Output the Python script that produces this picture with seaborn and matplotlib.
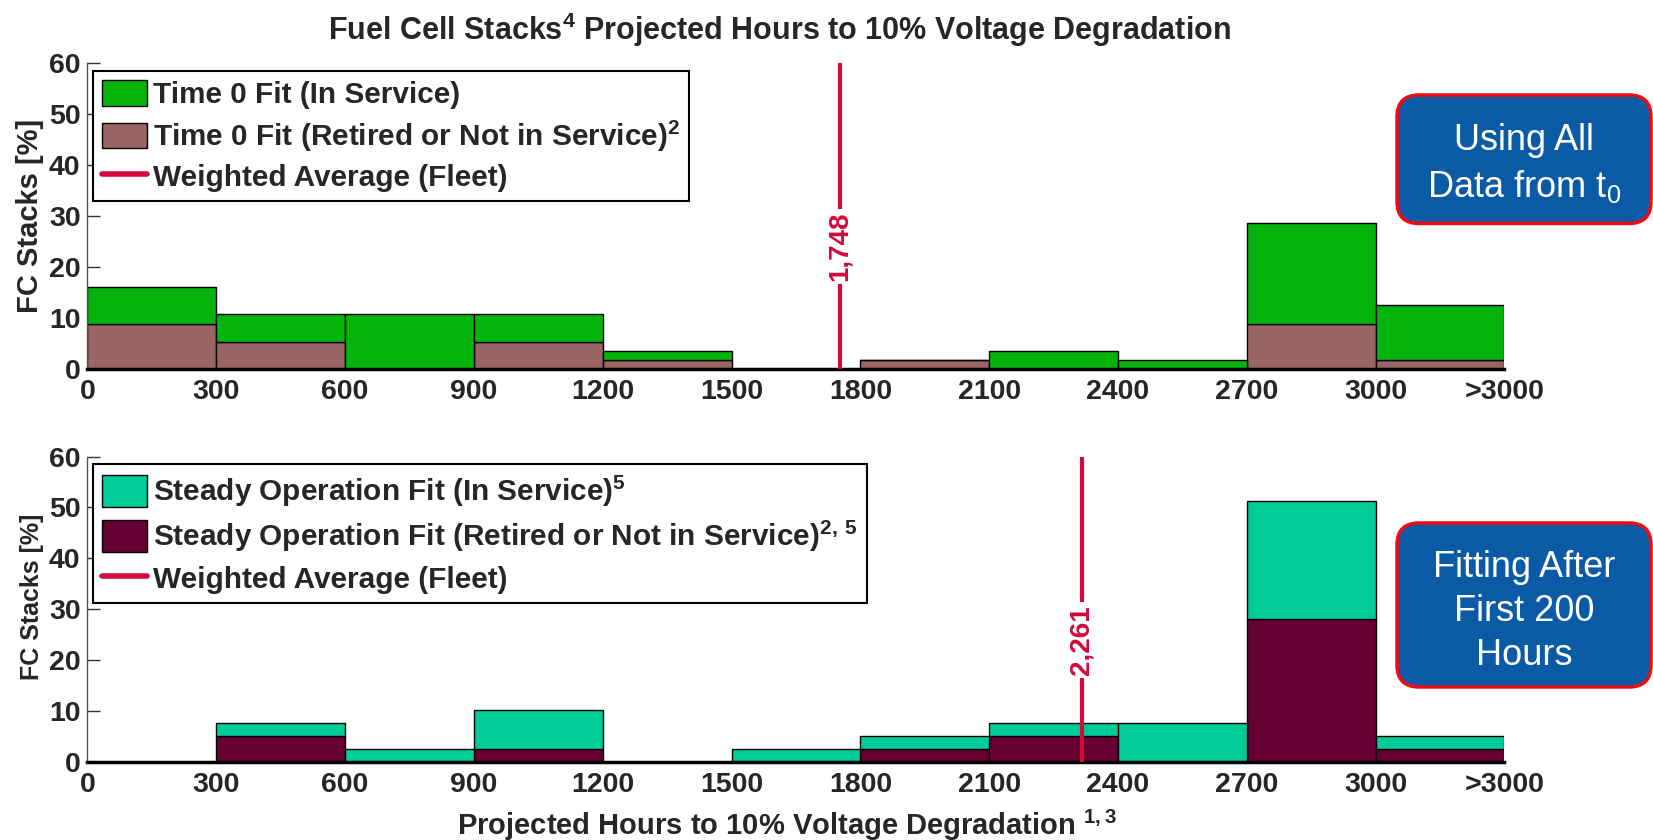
import matplotlib
matplotlib.use("Agg")

import matplotlib.pyplot as plt
import numpy as np
import pandas as pd
import seaborn as sns
from matplotlib.lines import Line2D
from matplotlib.patches import FancyBboxPatch, Patch

# bins of 300 h, last one is ">3000"
bin_edges = [0, 300, 600, 900, 1200, 1500, 1800, 2100, 2400, 2700, 3000, 3300]
tick_labels = ["0", "300", "600", "900", "1200", "1500", "1800", "2100",
               "2400", "2700", "3000", ">3000"]

# percent of FC stacks per bin
t0_in_service = [7.2, 5.3, 10.7, 5.3, 1.8, 0, 0, 3.6, 1.8, 19.7, 10.7]
t0_retired = [8.9, 5.4, 0, 5.4, 1.8, 0, 1.8, 0, 0, 8.9, 1.8]
steady_in_service = [0, 2.6, 2.6, 7.7, 0, 2.6, 2.6, 2.6, 7.7, 23.1, 2.6]
steady_retired = [0, 5.1, 0, 2.6, 0, 0, 2.6, 5.1, 0, 28.2, 2.6]

# weighted fleet average: where the line is drawn, and its printed label
avg_position = [1753, 2316]
avg_label = ["1,748", "2,261"]

RED = "#D2093C"
FONT = ["Liberation Sans", "DejaVu Sans"]

sns.set_theme(style="white")
plt.rcParams["font.family"] = FONT
plt.rcParams["font.weight"] = "bold"
plt.rcParams["mathtext.fontset"] = "custom"
plt.rcParams["mathtext.rm"] = "Liberation Sans:weight=normal"
plt.rcParams["mathtext.bf"] = "Liberation Sans:bold"


def draw_panel(ax, in_service, retired, colors, labels, avg_x, avg_txt,
               handle_h, ylab_size):
    centers = np.array(bin_edges[:-1]) + 150
    df = pd.DataFrame({
        "hours": np.concatenate([centers, centers]),
        "pct": in_service + retired,
        "group": ["in"] * len(centers) + ["ret"] * len(centers),
    })
    # seaborn puts the last hue level at the bottom of the stack
    sns.histplot(
        data=df, x="hours", weights="pct", hue="group",
        hue_order=["in", "ret"], multiple="stack", bins=bin_edges,
        palette={"in": colors[0], "ret": colors[1]},
        alpha=1, edgecolor="black", linewidth=1, legend=False, ax=ax,
    )
    ax.axvline(avg_x, color=RED, lw=3, zorder=5)
    ax.text(avg_x, 24, avg_txt, rotation=90, ha="center", va="center",
            color=RED, fontsize=20, fontweight="bold", zorder=6,
            bbox=dict(facecolor="white", edgecolor="none", pad=2))

    ax.set_xlim(0, 3300)
    ax.set_ylim(0, 60)
    ax.set_xticks(bin_edges)
    ax.set_xticklabels(tick_labels)
    ax.set_yticks(range(0, 61, 10))
    ax.tick_params(axis="x", length=0, pad=7, labelsize=20.5)
    ax.tick_params(axis="y", direction="in", length=9, width=1, color="#333333",
                   pad=5, labelsize=20.5, left=True)
    for lab in ax.get_xticklabels() + ax.get_yticklabels():
        lab.set_fontweight("bold")
    ax.spines["top"].set_visible(False)
    ax.spines["right"].set_visible(False)
    ax.spines["left"].set_color("#555555")
    ax.spines["left"].set_linewidth(1)
    ax.spines["bottom"].set_color("black")
    ax.spines["bottom"].set_linewidth(2.5)
    ax.set_ylabel("FC Stacks [%]", fontsize=ylab_size, fontweight="bold")
    ax.set_xlabel("")

    handles = [
        Patch(facecolor=colors[0], edgecolor="black", lw=1),
        Patch(facecolor=colors[1], edgecolor="black", lw=1),
        Line2D([], [], color=RED, lw=4),
    ]
    leg = ax.legend(handles, labels, loc="upper left",
                    bbox_to_anchor=(0.0037, 0.975), borderaxespad=0,
                    fontsize=21.4, frameon=True, fancybox=False,
                    handlelength=1.52, handleheight=handle_h, handletextpad=0.22,
                    labelspacing=0.3, borderpad=0.3)
    leg.get_frame().set_edgecolor("black")
    leg.get_frame().set_linewidth(1.5)
    leg.get_frame().set_alpha(1)
    for t in leg.get_texts():
        t.set_fontweight("bold")


fig = plt.figure(figsize=(16.53, 8.40), dpi=100)
ax_top = fig.add_axes([0.0529, 0.5607, 0.8572, 0.3639])
ax_bot = fig.add_axes([0.0529, 0.0926, 0.8572, 0.3639])

draw_panel(
    ax_top, t0_in_service, t0_retired, ["#05B40A", "#986464"],
    ["Time 0 Fit (In Service)",
     r"Time 0 Fit (Retired or Not in Service)$^{\mathbf{2}}$",
     "Weighted Average (Fleet)"],
    avg_position[0], avg_label[0], 0.95, 21,
)
draw_panel(
    ax_bot, steady_in_service, steady_retired, ["#00CC99", "#660033"],
    [r"Steady Operation Fit (In Service)$^{\mathbf{5}}$",
     r"Steady Operation Fit (Retired or Not in Service)$^{\mathbf{2,\,5}}$",
     "Weighted Average (Fleet)"],
    avg_position[1], avg_label[1], 1.25, 18,
)
ax_top.yaxis.set_label_coords(-0.031, 0.5)
ax_bot.yaxis.set_label_coords(-0.031, 0.54)

fig.text(0.4715, 1 - 30 / 840,
         r"Fuel Cell Stacks$^{\mathbf{4}}$ Projected Hours to 10% Voltage Degradation",
         ha="center", va="center", fontsize=22, fontweight="bold")
fig.text(0.476, 1 - 835 / 840,
         r"Projected Hours to 10% Voltage Degradation $^{\mathbf{1,3}}$",
         ha="center", va="baseline", fontsize=21, fontweight="bold")

# blue call-out boxes on the right
for y0, h in [(6.165, 1.285), (1.53, 1.64)]:
    fig.patches.append(FancyBboxPatch(
        (13.97, y0), 2.54, h, boxstyle="round,pad=0,rounding_size=0.22",
        transform=fig.dpi_scale_trans, facecolor="#0B5AA6",
        edgecolor="#F00A14", linewidth=2.5, zorder=10))

box_lines = [("Using All", 150), (r"Data from t$_\mathrm{0}$", 197),
             ("Fitting After", 577), ("First 200", 621), ("Hours", 665)]
for txt, ypx in box_lines:
    fig.text(1524 / 1653, 1 - ypx / 840, txt, ha="center", va="baseline",
             color="white", fontsize=26, fontweight="normal", zorder=11)

fig.savefig("out.png", dpi=100)
plt.close(fig)
